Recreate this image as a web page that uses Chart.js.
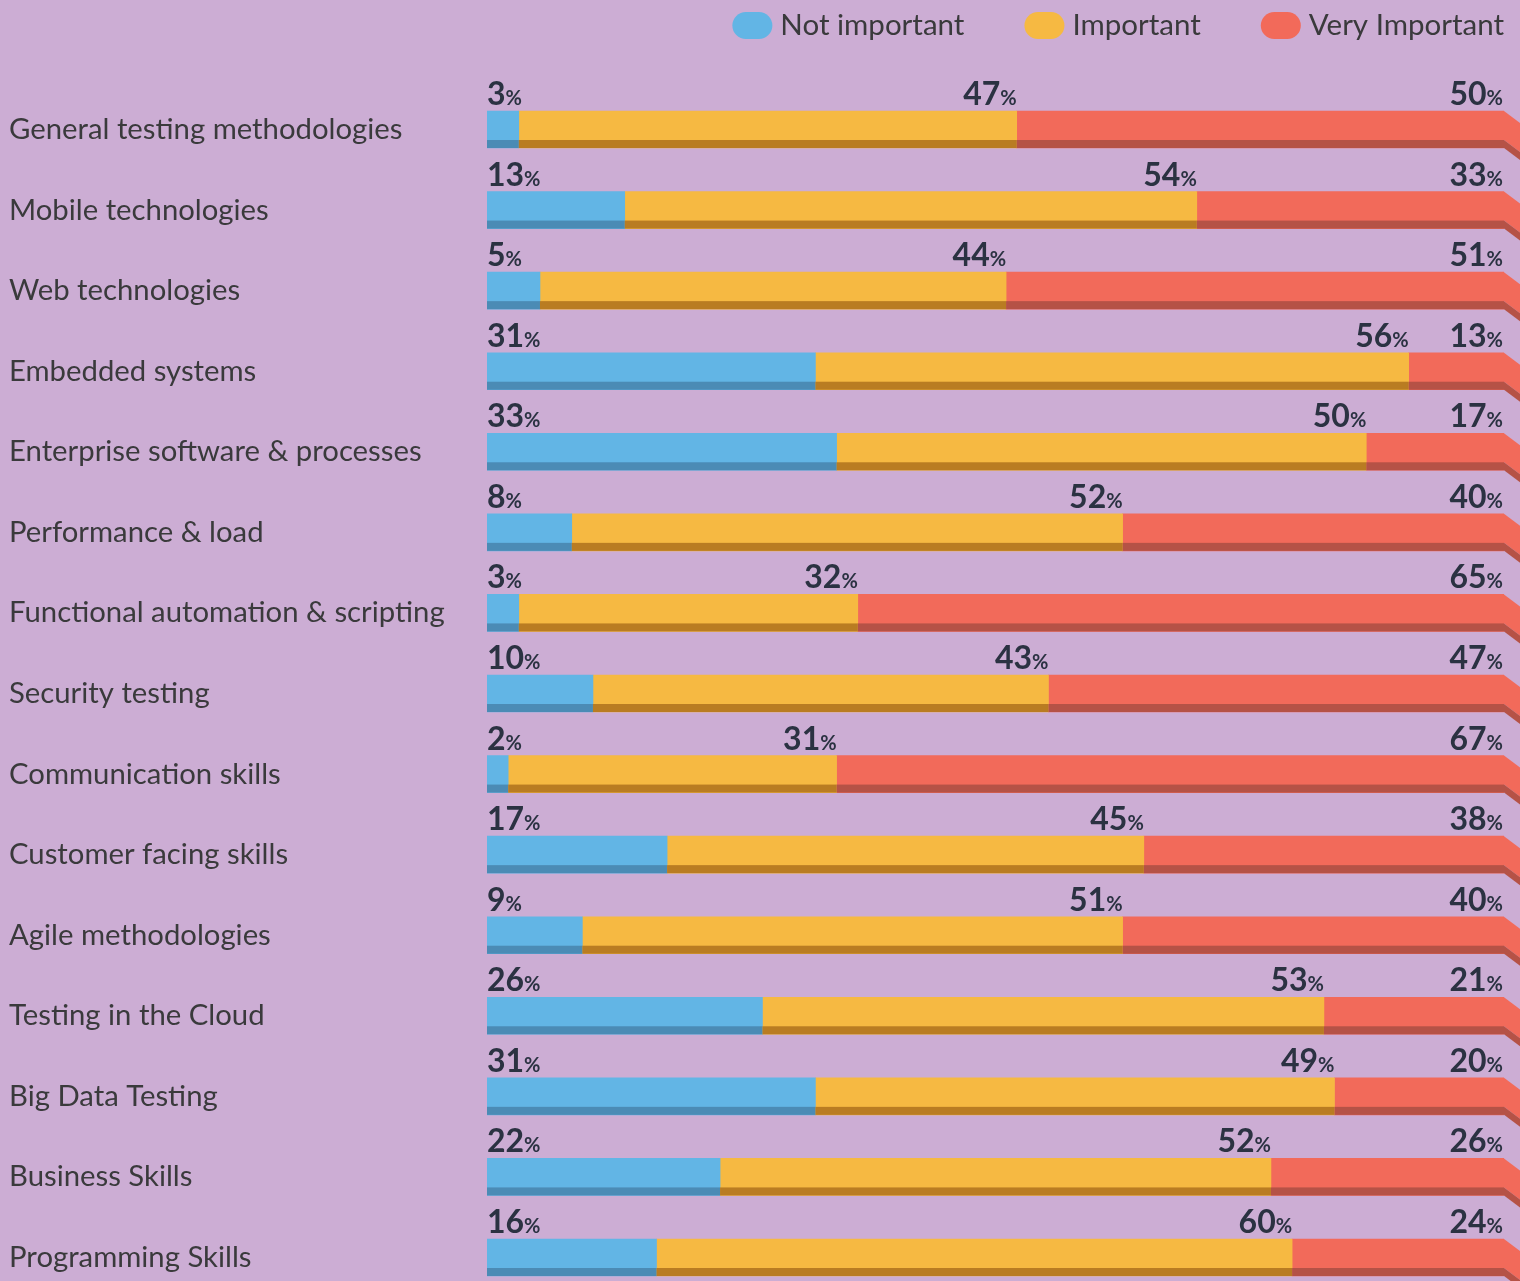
<!DOCTYPE html>
<html>
<head>
<meta charset="utf-8">
<title>Skills importance</title>
<script src="https://cdn.jsdelivr.net/npm/chart.js@4.4.1/dist/chart.umd.min.js"></script>
<style>
  html, body { margin: 0; padding: 0; background: #CCADD4; overflow: hidden; }
  #wrap { width: 1520px; height: 1281px; position: relative; }
</style>
</head>
<body>
<div id="wrap"><canvas id="chart"></canvas></div>
<script>
const categories = [
    'General testing methodologies',
    'Mobile technologies',
    'Web technologies',
    'Embedded systems',
    'Enterprise software & processes',
    'Performance & load',
    'Functional automation & scripting',
    'Security testing',
    'Communication skills',
    'Customer facing skills',
    'Agile methodologies',
    'Testing in the Cloud',
    'Big Data Testing',
    'Business Skills',
    'Programming Skills'
];
const notImportant = [3, 13, 5, 31, 33, 8, 3, 10, 2, 17, 9, 26, 31, 22, 16];
const important = [47, 54, 44, 56, 50, 52, 32, 43, 31, 45, 51, 53, 49, 52, 60];
const veryImportant = [50, 33, 51, 13, 17, 40, 65, 47, 67, 38, 40, 21, 20, 26, 24];
const seriesLabels = ['Not important', 'Important', 'Very Important'];

const seriesColors = ['#62B5E5', '#F6B942', '#F26A5A'];
const shadeColors = ['#4B8BB5', '#B97C22', '#B55246'];
const labelColor = '#3A3A3C';
const numberColor = '#2B3242';

Chart.defaults.font.family = "Lato, 'Noto Sans', sans-serif";

// darker strip at the bottom of every bar, plus the folded end on the right
const barShade = {
    id: 'barShade',
    afterDatasetsDraw(chart) {
        const { ctx, chartArea } = chart;
        ctx.save();
        chart.data.datasets.forEach((ds, i) => {
            chart.getDatasetMeta(i).data.forEach((bar) => {
                const left = Math.min(bar.base, bar.x);
                const right = Math.min(Math.max(bar.base, bar.x), chartArea.right);
                const bottom = bar.y + bar.height / 2;
                ctx.fillStyle = shadeColors[i];
                ctx.fillRect(left, bottom - 8, right - left, 8);
            });
        });
        const last = chart.data.datasets.length - 1;
        chart.getDatasetMeta(last).data.forEach((bar) => {
            const top = bar.y - bar.height / 2;
            const bottom = bar.y + bar.height / 2;
            const x0 = chartArea.right, dx = 16, dy = 12;
            ctx.fillStyle = seriesColors[last];
            ctx.beginPath();
            ctx.moveTo(x0, top);
            ctx.lineTo(x0 + dx, top + dy);
            ctx.lineTo(x0 + dx, bottom - 8 + dy);
            ctx.lineTo(x0, bottom - 8);
            ctx.closePath();
            ctx.fill();
            ctx.fillStyle = shadeColors[last];
            ctx.beginPath();
            ctx.moveTo(x0, bottom - 8);
            ctx.lineTo(x0 + dx, bottom - 8 + dy);
            ctx.lineTo(x0 + dx, bottom + dy);
            ctx.lineTo(x0, bottom);
            ctx.closePath();
            ctx.fill();
        });
        ctx.restore();
    }
};

// "47%" style labels above the bars
const valueLabels = {
    id: 'valueLabels',
    afterDatasetsDraw(chart) {
        const { ctx, chartArea } = chart;
        ctx.save();
        ctx.fillStyle = numberColor;
        ctx.textAlign = 'left';
        ctx.textBaseline = 'alphabetic';
        chart.data.datasets.forEach((ds, i) => {
            chart.getDatasetMeta(i).data.forEach((bar, j) => {
                const num = String(ds.data[j]);
                ctx.font = "bold 32px Lato";
                const wNum = ctx.measureText(num).width;
                ctx.font = "bold 20px Lato";
                const wPct = ctx.measureText('%').width;
                const y = bar.y - bar.height / 2 - 6;
                let x;
                if (i === 0) {
                    x = bar.base;
                } else {
                    x = Math.min(bar.x, chartArea.right - 1) - wNum - wPct;
                }
                ctx.font = "bold 32px Lato";
                ctx.fillText(num, x, y);
                ctx.font = "bold 20px Lato";
                ctx.fillText('%', x + wNum, y);
            });
        });
        ctx.restore();
    }
};

// legend with rounded markers, right aligned at the top
const legendPills = {
    id: 'legendPills',
    afterDraw(chart) {
        const { ctx, chartArea } = chart;
        const datasets = chart.data.datasets;
        ctx.save();
        ctx.font = "29.5px Lato";
        ctx.textBaseline = 'alphabetic';
        ctx.textAlign = 'left';
        let right = chartArea.right;
        for (let i = datasets.length - 1; i >= 0; i--) {
            const w = ctx.measureText(datasets[i].label).width;
            const tx = right - w;
            ctx.fillStyle = labelColor;
            ctx.fillText(datasets[i].label, tx, 35);
            const px = tx - 8 - 40;
            ctx.fillStyle = datasets[i].backgroundColor;
            ctx.beginPath();
            ctx.roundRect(px, 12, 40, 27, 13.5);
            ctx.fill();
            right = px - 60;
        }
        ctx.restore();
    }
};

function build() {
    const seriesData = [notImportant, important, veryImportant];
    const chart = new Chart(document.getElementById('chart'), {
        type: 'bar',
        data: {
            labels: categories,
            datasets: seriesData.map((d, i) => ({
                label: seriesLabels[i],
                data: d,
                backgroundColor: seriesColors[i],
                borderWidth: 0,
                barThickness: 37,
                clip: { left: 0, right: 0, top: false, bottom: false }
            }))
        },
        options: {
            indexAxis: 'y',
            responsive: true,
            maintainAspectRatio: false,
            animation: false,
            layout: {
                padding: { left: 9, right: 16, top: 129.5, bottom: 23.5 }
            },
            plugins: {
                legend: { display: false },
                tooltip: { enabled: false }
            },
            scales: {
                x: {
                    stacked: true,
                    min: 0,
                    max: 96, // bars are cut off at the right edge
                    display: false
                },
                y: {
                    stacked: true,
                    offset: false,
                    grid: { display: false },
                    border: { display: false },
                    ticks: {
                        font: { size: 29.3 },
                        color: labelColor,
                        crossAlign: 'far',
                        padding: 0,
                        autoSkip: false
                    },
                    afterFit(scale) {
                        scale.width = 478;
                    }
                }
            }
        },
        plugins: [barShade, valueLabels, legendPills]
    });
}

Promise.all([
    document.fonts.load("29px Lato"),
    document.fonts.load("bold 32px Lato")
]).then(build, build);
</script>
</body>
</html>
